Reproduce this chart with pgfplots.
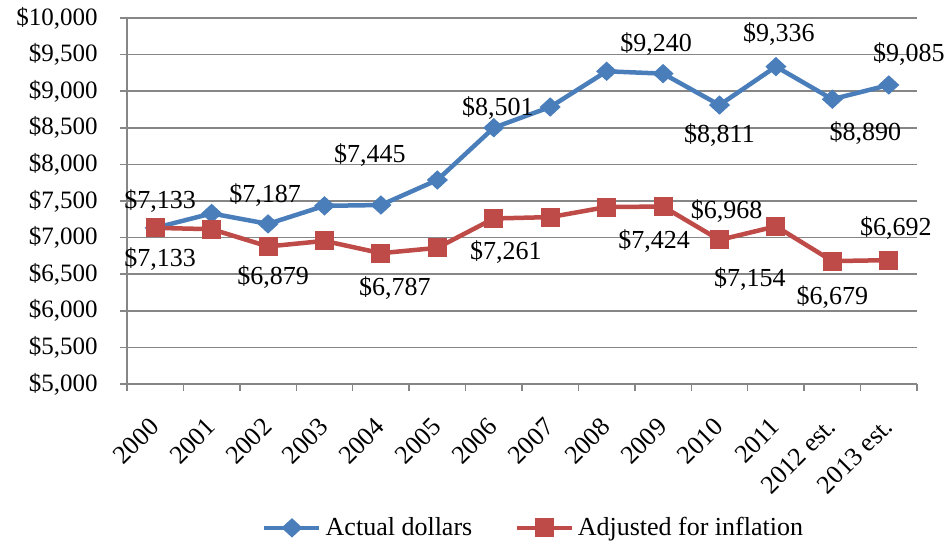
\documentclass[border=0pt]{standalone}
\usepackage{pgfplots}
\usepackage{pgfplotstable}
\pgfplotsset{compat=1.18}
\usepackage{fontspec}
\setmainfont{Liberation Serif}
\definecolor{sblue}{HTML}{4A7EBB}
\definecolor{sred}{HTML}{BE4B48}
\definecolor{gridgray}{HTML}{868686}
\pgfplotstableread{
x actual adjusted
0 7133 7133
1 7330 7115
2 7187 6879
3 7434 6955
4 7445 6787
5 7787 6860
6 8501 7261
7 8784 7280
8 9272 7418
9 9240 7424
10 8811 6968
11 9336 7154
12 8890 6679
13 9085 6692
}\datatable
\begin{document}
\begin{tikzpicture}[font=\fontsize{13}{15.6}\selectfont]
\begin{axis}[
  scale only axis, width=395pt, height=183pt,
  xmin=-0.5, xmax=13.5, ymin=5000, ymax=10000,
  clip=false,
  scaled y ticks=false,
  axis x line*=bottom, axis y line*=left,
  axis line style={gridgray, line width=0.75pt, -},
  xtick={0,...,13},
  xticklabels={2000,2001,2002,2003,2004,2005,2006,2007,2008,2009,2010,2011,2012 est.,2013 est.},
  minor xtick={-0.5,0.5,...,13.5},
  major x tick style={draw=none},
  minor x tick style={gridgray, line width=0.75pt},
  minor tick length=3.5pt,
  major tick length=3.5pt,
  tick align=outside,
  ytick={5000,5500,...,10000},
  yticklabels={{\$5,000},{\$5,500},{\$6,000},{\$6,500},{\$7,000},{\$7,500},{\$8,000},{\$8,500},{\$9,000},{\$9,500},{\$10,000}},
  y tick style={gridgray, line width=0.75pt},
  ymajorgrids, major grid style={gridgray, line width=0.75pt},
  xticklabel style={xshift=-3.5pt, yshift=-11pt, rotate=45, anchor=north east, inner sep=1pt},
  yticklabel style={inner sep=2pt, xshift=-9pt, font=\fontsize{12.5}{15}\selectfont},
  legend columns=2,
  legend style={draw=none, at={(0.516,-0.393)}, anchor=center, fill=none,
    /tikz/every even column/.append style={column sep=19pt}},
  legend image code/.code={\draw[mark repeat=2,mark phase=2] plot coordinates {(0pt,0pt) (13.75pt,0pt) (27.5pt,0pt)};},
]
\addplot[sblue, line width=2.25pt, mark=diamond*, mark size=4.5pt, mark options={xscale=1.45, line width=0.5pt}] table[x=x, y=actual] {\datatable};
\addlegendentry{Actual dollars}
\addplot[sred, line width=2.25pt, mark=square*, mark size=4.5pt, mark options={line width=0.5pt}] table[x=x, y=adjusted] {\datatable};
\addlegendentry{Adjusted for inflation}
% labels for actual dollars
\node[xshift=2.5pt, yshift=13.5pt] at (axis cs:0,7133) {\$7,133};
\node[xshift=-1.5pt, yshift=14.5pt] at (axis cs:2,7187) {\$7,187};
\node[xshift=-5.5pt, yshift=25pt] at (axis cs:4,7445) {\$7,445};
\node[xshift=2pt, yshift=10pt] at (axis cs:6,8501) {\$8,501};
\node[xshift=-3.5pt, yshift=15pt] at (axis cs:9,9240) {\$9,240};
\node[yshift=-15pt] at (axis cs:10,8811) {\$8,811};
\node[xshift=1.5pt, yshift=16.5pt] at (axis cs:11,9336) {\$9,336};
\node[xshift=16.5pt, yshift=-17pt] at (axis cs:12,8890) {\$8,890};
\node[xshift=10pt, yshift=15.5pt] at (axis cs:13,9085) {\$9,085};
% labels for adjusted
\node[xshift=2.5pt, yshift=-15.5pt] at (axis cs:0,7133) {\$7,133};
\node[xshift=2.5pt, yshift=-15.5pt] at (axis cs:2,6879) {\$6,879};
\node[xshift=7pt, yshift=-17.5pt] at (axis cs:4,6787) {\$6,787};
\node[xshift=6pt, yshift=-17pt] at (axis cs:6,7261) {\$7,261};
\node[xshift=-4.5pt, yshift=-17.5pt] at (axis cs:9,7424) {\$7,424};
\node[xshift=3.5pt, yshift=14.5pt] at (axis cs:10,6968) {\$6,968};
\node[xshift=-13pt, yshift=-26.5pt] at (axis cs:11,7154) {\$7,154};
\node[yshift=-18pt] at (axis cs:12,6679) {\$6,679};
\node[xshift=3.5pt, yshift=16pt] at (axis cs:13,6692) {\$6,692};
\end{axis}
\pgfresetboundingbox
\path[use as bounding box] (-63.5pt,-78.5pt) rectangle (411pt,192pt);
\end{tikzpicture}
\end{document}
